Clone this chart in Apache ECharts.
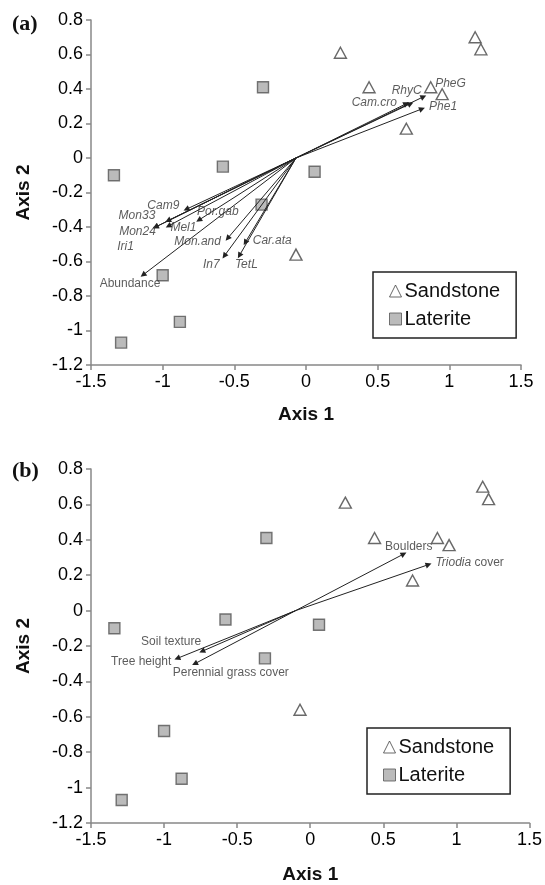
<!DOCTYPE html>
<html>
<head>
<meta charset="utf-8">
<script src="https://cdn.jsdelivr.net/npm/echarts@6/dist/echarts.min.js"></script>
<style>
  html, body { margin: 0; padding: 0; background: #fff; }
  #chart { width: 545px; height: 885px; }
</style>
</head>
<body>
<div id="chart"></div>
<script>
// site scores (same sites in both panels)
const sandstone = [[1.18, 0.70], [1.22, 0.63], [0.24, 0.61], [0.44, 0.41], [0.87, 0.41], [0.95, 0.37], [0.70, 0.17], [-0.07, -0.56]]
const laterite = [[-0.30, 0.41], [-0.58, -0.05], [-1.34, -0.10], [0.06, -0.08], [-0.31, -0.27], [-1.00, -0.68], [-0.88, -0.95], [-1.29, -1.07]]

// panel (a) species vectors
const originA = [-0.07, 0]
const speciesNames = ['Cam9', 'Mon33', 'Mon24', 'Iri1', 'Mel1', 'Por.gab', 'Mon.and', 'Car.ata', 'In7', 'TetL', 'Abundance', 'Cam.cro', 'RhyC', 'PheG', 'Phe1']
const speciesX = [-0.835, -0.963, -1.05, -1.05, -0.96, -0.748, -0.547, -0.424, -0.57, -0.465, -1.137, 0.70, 0.73, 0.82, 0.81]
const speciesY = [-0.297, -0.363, -0.40, -0.40, -0.394, -0.36, -0.466, -0.49, -0.568, -0.566, -0.678, 0.315, 0.315, 0.355, 0.285]

// panel (b) environmental vectors
const originB = [-0.1, 0]
const envNames = ['Boulders', 'Triodia cover', 'Soil texture', 'Tree height', 'Perennial grass cover']
const envX = [0.64, 0.81, -0.74, -0.91, -0.79]
const envY = [0.32, 0.26, -0.23, -0.27, -0.30]

const xTicks = [-1.5, 1.5, 0.5]   // min, max, step
const yTicks = [-1.2, 0.8, 0.2]

// label placement (pixel offsets of label centre from arrow head)
const labelOffsetA = {
  'Cam9': [-23, -4], 'Mon33': [-31, -5], 'Mon24': [-18, 5], 'Iri1': [-30, 20],
  'Mel1': [15, 2], 'Por.gab': [19, -8], 'Mon.and': [-30, 3], 'Car.ata': [27, -2],
  'In7': [-13, 9], 'TetL': [7, 9], 'Abundance': [-13, 9], 'Cam.cro': [-32, -1],
  'RhyC': [-4, -13], 'PheG': [27, -13], 'Phe1': [21, -2]
}
const labelOffsetB = {
  'Boulders': [5, -7], 'Triodia cover': [41, -2], 'Soil texture': [-31, -10],
  'Tree height': [-36, 3], 'Perennial grass cover': [36, 9]
}

const FONT = 'Liberation Sans, Arial, sans-serif'

function xAxis(gridIndex, gap) {
  return {
    gridIndex: gridIndex, type: 'value', min: xTicks[0], max: xTicks[1], interval: xTicks[2],
    name: 'Axis 1', nameLocation: 'middle', nameGap: gap,
    nameTextStyle: {fontSize: 19, fontWeight: 'bold', color: '#111', fontFamily: FONT},
    axisLine: {onZero: false, lineStyle: {color: '#888', width: 1.5}},
    axisTick: {show: true, length: 5, lineStyle: {color: '#888', width: 1.5}},
    axisLabel: {fontSize: 18, color: '#000', fontFamily: FONT, margin: 8, formatter: v => String(+v.toFixed(1))},
    splitLine: {show: false}
  }
}

function yAxis(gridIndex) {
  return {
    gridIndex: gridIndex, type: 'value', min: yTicks[0], max: yTicks[1], interval: yTicks[2],
    name: 'Axis 2', nameLocation: 'middle', nameGap: 58, nameRotate: 90,
    nameTextStyle: {fontSize: 19, fontWeight: 'bold', color: '#111', fontFamily: FONT},
    axisLine: {onZero: false, lineStyle: {color: '#888', width: 1.5}},
    axisTick: {show: true, length: 5, lineStyle: {color: '#888', width: 1.5}},
    axisLabel: {fontSize: 18, color: '#000', fontFamily: FONT, margin: 8, formatter: v => String(+v.toFixed(1))},
    splitLine: {show: false}
  }
}

function siteSeries(idx) {
  return [
    {
      name: 'Sandstone', type: 'scatter', xAxisIndex: idx, yAxisIndex: idx,
      data: sandstone, symbol: 'triangle', symbolSize: [12, 11], z: 3,
      itemStyle: {color: '#fff', borderColor: '#444', borderWidth: 1.4}
    },
    {
      name: 'Laterite', type: 'scatter', xAxisIndex: idx, yAxisIndex: idx,
      data: laterite, symbol: 'rect', symbolSize: 11, z: 3,
      itemStyle: {color: '#aaa', borderColor: '#555', borderWidth: 1.4}
    }
  ]
}

function vectorSeries(idx, origin, names, xs, ys, offsets, italic) {
  const lines = names.map((n, i) => ({coords: [origin, [xs[i], ys[i]]]}))
  const heads = names.map((n, i) => ({
    value: [xs[i], ys[i]], name: n,
    label: {offset: offsets[n]}
  }))
  return [
    {
      type: 'lines', coordinateSystem: 'cartesian2d', xAxisIndex: idx, yAxisIndex: idx,
      data: lines, symbol: ['none', 'triangle'], symbolSize: [6, 6], z: 4,
      lineStyle: {color: '#222', width: 1, opacity: 1}, silent: true
    },
    {
      type: 'scatter', xAxisIndex: idx, yAxisIndex: idx, data: heads,
      symbolSize: 1, itemStyle: {color: 'transparent'}, z: 5, silent: true,
      label: {
        show: true, position: 'inside', align: 'center', verticalAlign: 'middle',
        fontSize: 12, color: '#333', fontFamily: FONT,
        formatter: p => {
          if (p.name === 'Triodia cover') return '{i|Triodia} cover'
          return italic && p.name !== 'Abundance' ? '{i|' + p.name + '}' : p.name
        },
        rich: {i: {fontStyle: 'italic', fontSize: 12, color: '#333', fontFamily: FONT}}
      }
    }
  ]
}

function legend(left, top) {
  return {
    left: left, top: top, orient: 'vertical', selectedMode: false,
    data: [
      {name: 'Sandstone', icon: 'triangle', itemStyle: {color: '#fff', borderColor: '#444', borderWidth: 1}},
      {name: 'Laterite', icon: 'rect', itemStyle: {color: '#aaa', borderColor: '#555', borderWidth: 1}}
    ],
    itemWidth: 12, itemHeight: 12, itemGap: 8,
    textStyle: {fontSize: 20, color: '#111', fontFamily: FONT, padding: [0, 0, 0, -2]},
    borderColor: '#222', borderWidth: 1.5, padding: [9, 16, 9, 16]
  }
}

const chart = echarts.init(document.getElementById('chart'))
chart.setOption({
  animation: false,
  backgroundColor: '#fff',
  grid: [
    {left: 91, top: 20, width: 430, height: 345},
    {left: 91, top: 469, width: 441, height: 355}
  ],
  xAxis: [xAxis(0, 40), xAxis(1, 42)],
  yAxis: [yAxis(0), yAxis(1)],
  legend: [legend(373, 272), legend(367, 728)],
  graphic: [
    {type: 'text', left: 12, top: 13, style: {text: '(a)', font: 'bold 22px Liberation Serif, Times New Roman, serif', fill: '#111'}},
    {type: 'text', left: 12, top: 460, style: {text: '(b)', font: 'bold 22px Liberation Serif, Times New Roman, serif', fill: '#111'}}
  ],
  series: [
    ...siteSeries(0),
    ...vectorSeries(0, originA, speciesNames, speciesX, speciesY, labelOffsetA, true),
    ...siteSeries(1),
    ...vectorSeries(1, originB, envNames, envX, envY, labelOffsetB, false)
  ]
})
</script>
</body>
</html>
